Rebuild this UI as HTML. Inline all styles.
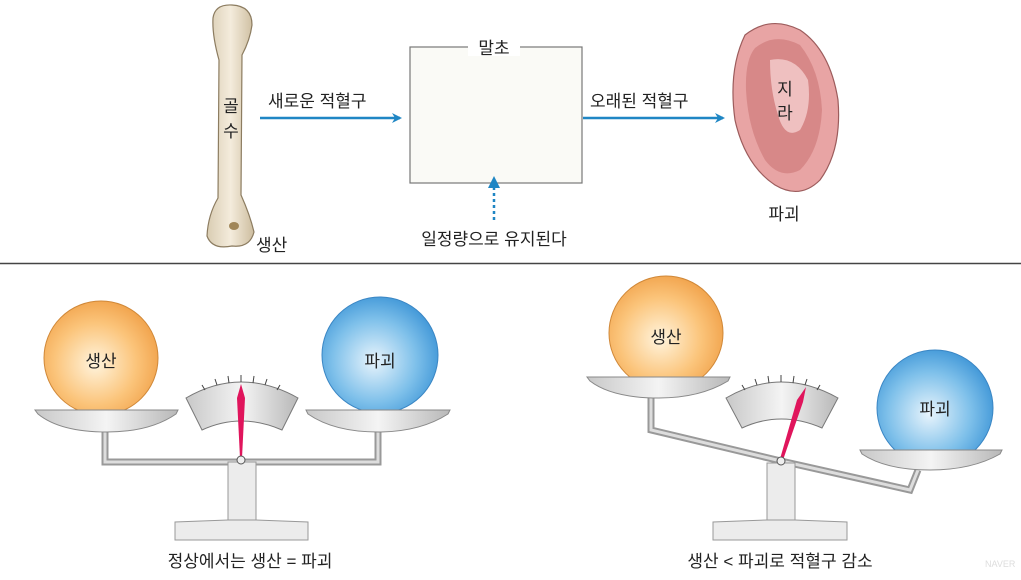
<!DOCTYPE html>
<html><head><meta charset="utf-8"><style>
html,body{margin:0;padding:0;background:#fff}
svg{display:block}
text{font-family:"Liberation Sans","Noto Sans CJK KR",sans-serif;fill:#222}
</style></head><body>
<svg width="1021" height="580" viewBox="0 0 1021 580" xmlns="http://www.w3.org/2000/svg">
<defs>
<radialGradient id="og" cx="0.45" cy="0.55" r="0.6"><stop offset="0" stop-color="#fff4dd"/><stop offset="0.6" stop-color="#fbc47a"/><stop offset="1" stop-color="#f0a048"/></radialGradient>
<radialGradient id="bg" cx="0.45" cy="0.55" r="0.6"><stop offset="0" stop-color="#e8f4fc"/><stop offset="0.6" stop-color="#7ec0ea"/><stop offset="1" stop-color="#3c94d6"/></radialGradient>
<linearGradient id="pan" x1="0" y1="0" x2="1" y2="0"><stop offset="0" stop-color="#c8c8c8"/><stop offset="0.5" stop-color="#f4f4f4"/><stop offset="1" stop-color="#b8b8b8"/></linearGradient>
<linearGradient id="bone" x1="0" y1="0" x2="1" y2="0"><stop offset="0" stop-color="#d9ccb2"/><stop offset="0.5" stop-color="#f4ecdc"/><stop offset="1" stop-color="#cdbd9f"/></linearGradient>
<marker id="ah" markerWidth="10" markerHeight="10" refX="8" refY="5" orient="auto" markerUnits="userSpaceOnUse"><path d="M0,0 L10,5 L0,10 L3,5 Z" fill="#1f86c4"/></marker>
</defs>
<!-- bone -->
<path d="M213,18 Q215,4 232,5 Q252,6 252,25 Q250,40 242,55 L241,195 Q250,215 254,232 Q250,248 232,246 Q212,250 207,236 Q208,215 218,198 L219,60 Q212,35 213,18 Z" fill="url(#bone)" stroke="#8c7c60" stroke-width="1.2"/>
<ellipse cx="234" cy="226" rx="5" ry="4" fill="#a08658"/>
<text x="231" y="112" font-size="17" text-anchor="middle">골</text>
<text x="231" y="137" font-size="17" text-anchor="middle">수</text>
<text x="256" y="251" font-size="17">생산</text>
<line x1="260" y1="118" x2="400" y2="118" stroke="#1f86c4" stroke-width="2.5" marker-end="url(#ah)"/>
<text x="268" y="107" font-size="17">새로운 적혈구</text>
<rect x="410" y="47" width="172" height="136" fill="#fafaf6" stroke="#777" stroke-width="1.2"/>
<rect x="468" y="38" width="52" height="18" fill="#fff"/>
<text x="494" y="54" font-size="17" text-anchor="middle">말초</text>
<line x1="494" y1="220" x2="494" y2="186" stroke="#1f86c4" stroke-width="2.5" stroke-dasharray="3,3"/>
<path d="M488,188 L494,176 L500,188 Z" fill="#1f86c4"/>
<text x="494" y="245" font-size="17" text-anchor="middle">일정량으로 유지된다</text>
<line x1="583" y1="118" x2="723" y2="118" stroke="#1f86c4" stroke-width="2.5" marker-end="url(#ah)"/>
<text x="590" y="107" font-size="17">오래된 적혈구</text>
<!-- spleen -->
<path d="M745,35 Q770,15 800,30 Q830,50 838,100 Q842,150 820,180 Q800,200 775,185 Q745,165 735,120 Q728,70 745,35 Z" fill="#e8a4a4" stroke="#9c5c5c" stroke-width="1.2"/>
<path d="M755,48 Q775,32 800,45 Q820,70 822,110 Q820,150 800,170 Q780,180 765,160 Q748,130 746,90 Q745,60 755,48 Z" fill="#d78888"/>
<path d="M770,60 Q795,55 808,80 Q812,110 800,130 Q785,140 778,115 Q770,90 770,60 Z" fill="#efc0c0"/>
<text x="785" y="95" font-size="17" text-anchor="middle">지</text>
<text x="785" y="119" font-size="17" text-anchor="middle">라</text>
<text x="784" y="220" font-size="17" text-anchor="middle">파괴</text>
<line x1="0" y1="263.5" x2="1021" y2="263.5" stroke="#444" stroke-width="1.5"/>

<!-- left scale -->
<path d="M105,430 L105,462 L378,462 L378,430" fill="none" stroke="#999" stroke-width="7"/>
<path d="M105,430 L105,462 L378,462 L378,430" fill="none" stroke="#ddd" stroke-width="3"/>
<rect x="228" y="462" width="28" height="60" fill="#ececec" stroke="#999"/>
<path d="M175,540 L175,522 L228,520 L256,520 L308,522 L308,540 Z" fill="#ececec" stroke="#999"/>
<circle cx="101" cy="358" r="57" fill="url(#og)" stroke="#d08838"/>
<text x="101" y="367" font-size="17" text-anchor="middle">생산</text>
<path d="M35,410 L178,410 L176,414 Q150,432 107,432 Q60,432 38,414 Z" fill="url(#pan)" stroke="#888"/>
<circle cx="380" cy="355" r="58" fill="url(#bg)" stroke="#3a86c4"/>
<text x="380" y="367" font-size="17" text-anchor="middle">파괴</text>
<path d="M306,410 L450,410 L448,414 Q420,432 378,432 Q334,432 308,414 Z" fill="url(#pan)" stroke="#888"/>
<path d="M186,398 Q241,366 298,398 L282,430 Q241,412 202,430 Z" fill="url(#pan)" stroke="#777"/>
<g stroke="#444" stroke-width="1"><line x1="241" y1="375" x2="241" y2="382"/><line x1="228" y1="376" x2="229" y2="383"/><line x1="254" y1="376" x2="253" y2="383"/><line x1="215" y1="379" x2="217" y2="385"/><line x1="267" y1="379" x2="265" y2="385"/><line x1="202" y1="385" x2="205" y2="390"/><line x1="280" y1="385" x2="277" y2="390"/></g>
<path d="M241,384 L245,398 L242,458 L240,458 L237,398 Z" fill="#e0155c"/>
<circle cx="241" cy="460" r="4" fill="#eee" stroke="#555"/>
<text x="250" y="567" font-size="17" text-anchor="middle">정상에서는 생산 = 파괴</text>

<!-- right scale -->
<path d="M651,395 L651,430 L781,461 L910,490 L918,470" fill="none" stroke="#999" stroke-width="7"/>
<path d="M651,395 L651,430 L781,461 L910,490 L918,470" fill="none" stroke="#ddd" stroke-width="3"/>
<rect x="767" y="463" width="28" height="59" fill="#ececec" stroke="#999"/>
<path d="M713,540 L713,522 L767,520 L795,520 L847,522 L847,540 Z" fill="#ececec" stroke="#999"/>
<circle cx="666" cy="333" r="57" fill="url(#og)" stroke="#d08838"/>
<text x="666" y="343" font-size="17" text-anchor="middle">생산</text>
<path d="M587,377 L730,377 L728,381 Q700,398 659,398 Q612,398 590,381 Z" fill="url(#pan)" stroke="#888"/>
<circle cx="935" cy="408" r="58" fill="url(#bg)" stroke="#3a86c4"/>
<text x="935" y="415" font-size="17" text-anchor="middle">파괴</text>
<path d="M860,450 L1002,450 L1000,454 Q972,470 930,470 Q886,470 862,454 Z" fill="url(#pan)" stroke="#888"/>
<path d="M726,398 Q781,366 838,398 L822,428 Q781,410 742,428 Z" fill="url(#pan)" stroke="#777"/>
<g stroke="#444" stroke-width="1"><line x1="781" y1="375" x2="781" y2="382"/><line x1="768" y1="376" x2="769" y2="383"/><line x1="794" y1="376" x2="793" y2="383"/><line x1="755" y1="379" x2="757" y2="385"/><line x1="807" y1="379" x2="805" y2="385"/><line x1="742" y1="385" x2="745" y2="390"/><line x1="820" y1="385" x2="817" y2="390"/></g>
<path d="M806,387 L803,402 L783,460 L780,459 L797,400 Z" fill="#e0155c"/>
<circle cx="781" cy="461" r="4" fill="#eee" stroke="#555"/>
<text x="780" y="567" font-size="17" text-anchor="middle">생산 &lt; 파괴로 적혈구 감소</text>
<text x="985" y="567" font-size="9" style="fill:#ddd">NAVER</text>
</svg>
</body></html>
